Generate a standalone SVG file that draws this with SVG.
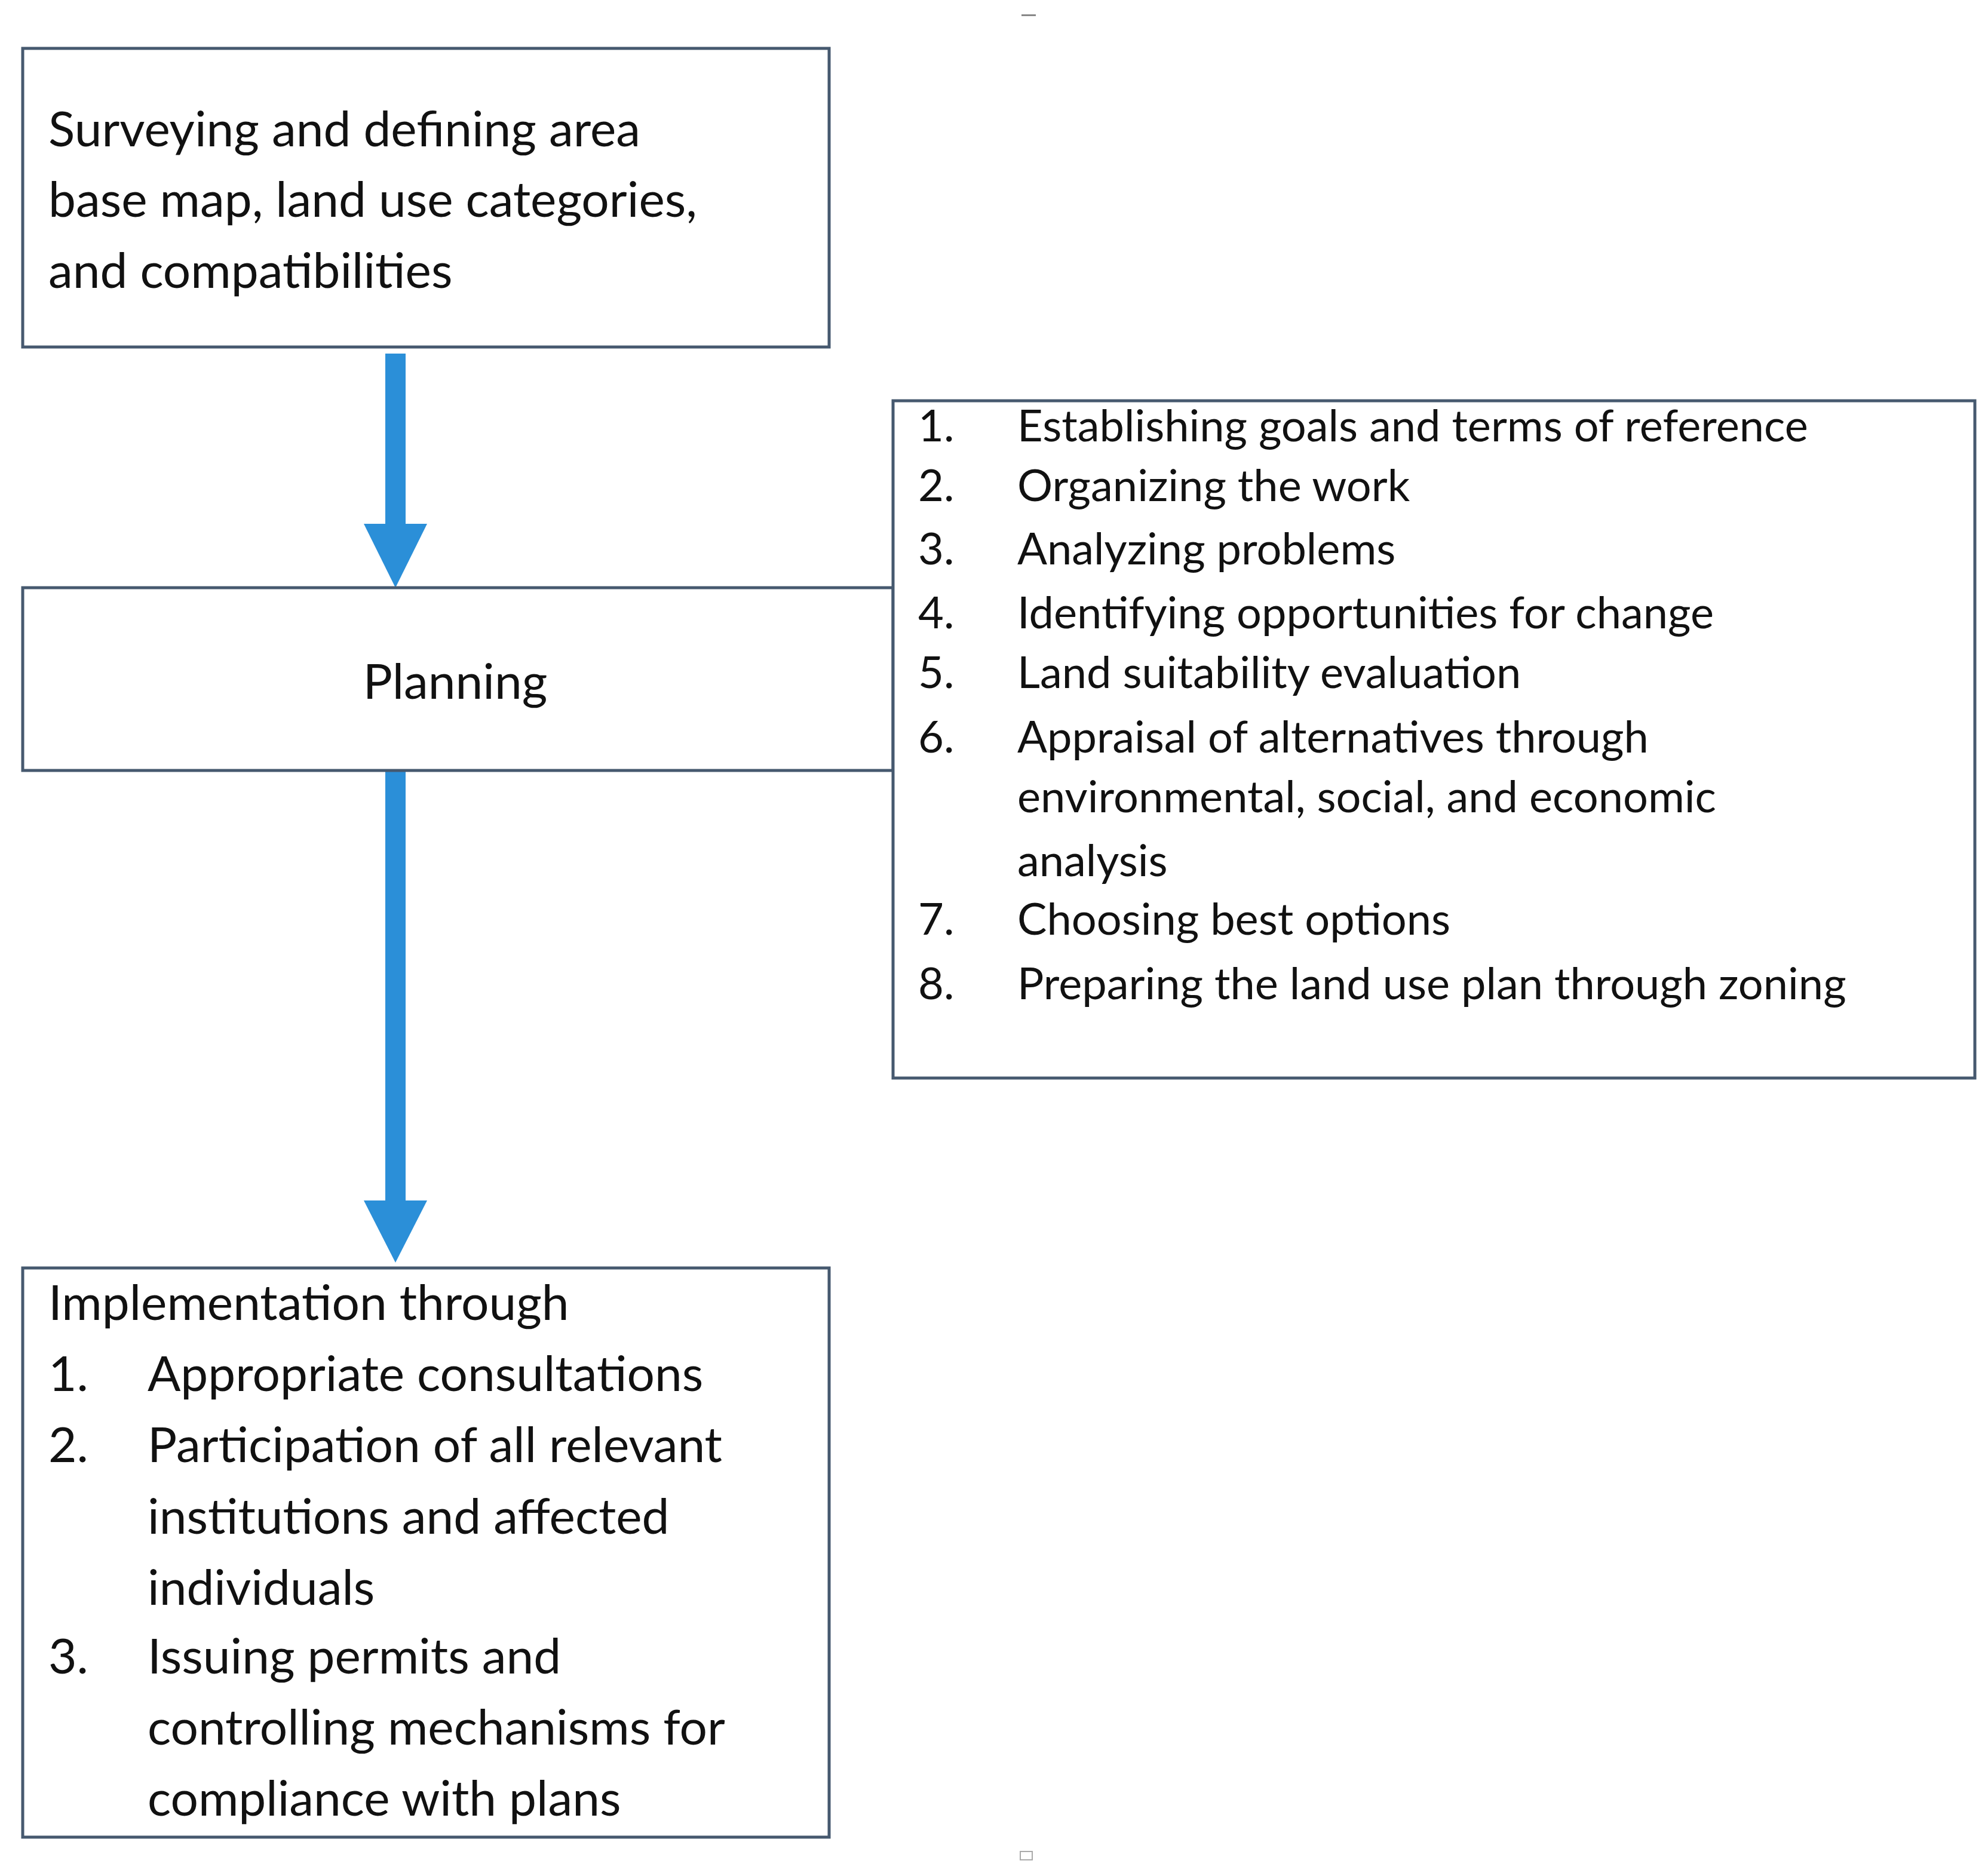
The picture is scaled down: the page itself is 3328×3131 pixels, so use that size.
<svg xmlns="http://www.w3.org/2000/svg" width="3328" height="3131" viewBox="0 0 3328 3131">
<style>
.box{fill:#fff;stroke:#46596f;stroke-width:5}
.t{font-family:Lato,"Open Sans",sans-serif;font-size:82px;fill:#111}
.n{font-family:Lato,"Open Sans",sans-serif;font-size:74px;fill:#111}
.arr{fill:#2b8fd8}
</style>
<rect width="3328" height="3131" fill="#fff"/>
<g id="connectors">
<rect class="arr" x="645" y="592" width="34" height="300"/>
<polygon class="arr" points="609,877 715,877 662,984"/>
<rect class="arr" x="645" y="1290" width="34" height="730"/>
<polygon class="arr" points="609,2010 715,2010 662,2114"/>
</g>
<g id="survey">
<rect class="box" x="38" y="81" width="1350" height="500"/>
<text class="t" x="81" y="245">Surveying and defining area</text>
<text class="t" x="81" y="363">base map, land use categories,</text>
<text class="t" x="81" y="482">and compatibilities</text>
</g>
<g id="planning">
<rect class="box" x="38" y="984" width="1457" height="306"/>
<text class="t" x="762" y="1170" font-size="96" text-anchor="middle">Planning</text>
</g>
<g id="steps">
<rect class="box" x="1495" y="671" width="1811" height="1134"/>
<g class="n">
<text x="1537" y="739">1.</text><text x="1703" y="739">Establishing goals and terms of reference</text>
<text x="1537" y="839">2.</text><text x="1703" y="839">Organizing the work</text>
<text x="1537" y="945">3.</text><text x="1703" y="945">Analyzing problems</text>
<text x="1537" y="1052">4.</text><text x="1703" y="1052">Identifying opportunities for change</text>
<text x="1537" y="1152">5.</text><text x="1703" y="1152">Land suitability evaluation</text>
<text x="1537" y="1260">6.</text><text x="1703" y="1260">Appraisal of alternatives through</text>
<text x="1703" y="1360">environmental, social, and economic</text>
<text x="1703" y="1467">analysis</text>
<text x="1537" y="1565">7.</text><text x="1703" y="1565">Choosing best options</text>
<text x="1537" y="1673">8.</text><text x="1703" y="1673">Preparing the land use plan through zoning</text>
</g>
</g>
<g id="implementation">
<rect class="box" x="38" y="2123" width="1350" height="953"/>
<g class="t">
<text x="81" y="2210">Implementation through</text>
<text x="81" y="2329">1.</text><text x="247" y="2329">Appropriate consultations</text>
<text x="81" y="2448">2.</text><text x="247" y="2448">Participation of all relevant</text>
<text x="247" y="2568">institutions and affected</text>
<text x="247" y="2687">individuals</text>
<text x="81" y="2802">3.</text><text x="247" y="2802">Issuing permits and</text>
<text x="247" y="2921">controlling mechanisms for</text>
<text x="247" y="3040">compliance with plans</text>
</g>
</g>
<rect x="1710" y="24" width="24" height="3" fill="#888"/>
<rect x="1708" y="3100" width="20" height="14" fill="none" stroke="#aaa" stroke-width="2"/>
</svg>
